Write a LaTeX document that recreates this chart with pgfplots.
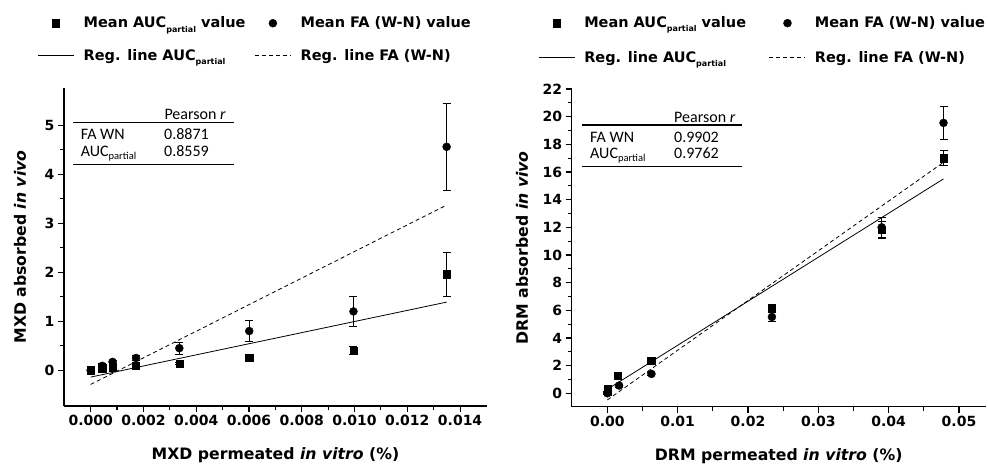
\documentclass[border=0pt]{standalone}
\usepackage{pgfplots}
\pgfplotsset{compat=1.18}
\usepackage{fontspec}
\setmainfont{DejaVu Sans}
\newfontfamily\tabfont{Carlito}
\newcommand\sub[1]{\raisebox{-0.28em}{\fontsize{8}{8}\selectfont #1}}
\newcommand\tsub[1]{\raisebox{-3pt}{\fontsize{10.5}{11}\selectfont #1}}

\pgfplotsset{
  regplot/.style={
    scale only axis,
    axis lines=left,
    axis line style={-, line width=1.4pt},
    tick align=outside,
    major tick length=6pt,
    minor tick length=4pt,
    tick style={line width=1.1pt, black},
    ticklabel style={font=\fontsize{14}{16}\selectfont\bfseries},
    label style={font=\fontsize{15.7}{18}\selectfont\bfseries},
    scaled ticks=false,
    clip=false,
    legend columns=2,
    legend style={draw=none, fill=none, anchor=north west, inner sep=0pt,
      nodes={inner sep=0pt, font=\fontsize{14.5}{17}\selectfont\bfseries},
      row sep=20pt,
      /tikz/every odd column/.append style={column sep=9.4pt},
      /tikz/every even column/.append style={column sep=9pt}},
    legend cell align=left,
    legend image code/.code={%
      \draw[#1] (0pt,0pt) -- (36pt,0pt);},
    error bars/y dir=both,
    error bars/y explicit,
    error bars/error bar style={line width=0.8pt, black},
    error bars/error mark options={rotate=90, mark size=4pt, line width=0.8pt},
    xlabel style={at={(axis description cs:0.5,0)}, anchor=center, yshift=-49pt},
  },
  sq/.style={only marks, mark=square*, mark size=3.6pt, black, mark options={fill=black}},
  ci/.style={only marks, mark=*, mark size=4pt, black, mark options={fill=black}},
  reg/.style={black, line width=0.8pt},
  regd/.style={black, line width=0.8pt, dash pattern=on 4pt off 3pt},
  % legend image for a single mark, centred in a 36pt wide cell
  markimg/.style={legend image code/.code={%
      \path[draw=none, fill=none] (0pt,0pt) -- (36pt,0pt);
      \draw[draw=none, #1] plot coordinates {(18pt,0pt)};}},
}

\begin{document}
\begin{tikzpicture}
\path[use as bounding box] (0pt,0pt) rectangle (988pt,466pt);

%% left panel: MXD
\begin{axis}[regplot,
  at={(64pt,60pt)}, anchor=south west,
  width=423pt, height=318pt,
  xmin=-0.00101, xmax=0.01502,
  ymin=-0.73, ymax=5.76,
  xtick={0,0.002,0.004,0.006,0.008,0.010,0.012,0.014},
  xticklabels={0.000,0.002,0.004,0.006,0.008,0.010,0.012,0.014},
  minor x tick num=1,
  ytick={0,1,2,3,4,5}, yticklabels={0,1,2,3,4,5},
  minor y tick num=1,
  xlabel={MXD permeated \textit{in vitro} (\%)},
  ylabel={MXD absorbed \textit{in vivo}},
  ylabel style={at={(axis description cs:-0.104,0.5)}, anchor=center},
  legend style={at={(axis description cs:-0.0631,1.224)}},
]
\addplot[sq, forget plot] table[x=x, y=y, y error=e] {
x y e
0 0 0.02
0.00044 0.04 0.03
0.00083 0.06 0.03
0.00172 0.09 0.03
0.00336 0.14 0.03
0.00601 0.25 0.05
0.00996 0.40 0.08
0.01349 1.96 0.45
};
\addplot[ci, forget plot] table[x=x, y=y, y error=e] {
x y e
0 0 0.02
0.00044 0.09 0.04
0.00083 0.17 0.04
0.00172 0.25 0.05
0.00336 0.45 0.12
0.00601 0.80 0.22
0.00996 1.20 0.31
0.01349 4.56 0.88
};
\addplot[reg, forget plot] coordinates {(0,-0.14) (0.01349,1.39)};
\addplot[regd, forget plot] coordinates {(0,-0.29) (0.01349,3.37)};

\addlegendimage{sq, markimg}
\addlegendentry{Mean AUC\sub{partial} value}
\addlegendimage{ci, markimg}
\addlegendentry{Mean FA (W-N) value}
\addlegendimage{reg}
\addlegendentry{Reg. line AUC\sub{partial}}
\addlegendimage{regd}
\addlegendentry{Reg. line FA (W-N)}
\end{axis}

%% right panel: DRM
\begin{axis}[regplot,
  at={(571.7pt,59.3pt)}, anchor=south west,
  width=414pt, height=317.7pt,
  xmin=-0.00507, xmax=0.0538,
  ymin=-0.97, ymax=22,
  xtick={0,0.01,0.02,0.03,0.04,0.05},
  xticklabels={0.00,0.01,0.02,0.03,0.04,0.05},
  minor x tick num=1,
  ytick={0,2,4,6,8,10,12,14,16,18,20,22},
  yticklabels={0,2,4,6,8,10,12,14,16,18,20,22},
  minor y tick num=1,
  xlabel={DRM permeated \textit{in vitro} (\%)},
  ylabel={DRM absorbed \textit{in vivo}},
  ylabel style={at={(axis description cs:-0.12,0.5)}, anchor=center},
  legend style={at={(axis description cs:-0.0807,1.2276)}, row sep=22pt,
    /tikz/every odd column/.append style={column sep=9pt},
    /tikz/every even column/.append style={column sep=23pt}},
]
\addplot[sq, forget plot] table[x=x, y=y, y error=e] {
x y e
0 0.10 0.05
0.00008 0.36 0.10
0.00152 1.30 0.10
0.00622 2.38 0.10
0.0234 6.20 0.20
0.0390 11.8 0.60
0.0478 17.0 0.53
};
\addplot[ci, forget plot] table[x=x, y=y, y error=e] {
x y e
0 0.00 0.05
0.00008 0.12 0.05
0.00167 0.56 0.10
0.00627 1.40 0.10
0.0234 5.52 0.30
0.0390 12.0 0.70
0.0478 19.55 1.17
};
\addplot[reg, forget plot] coordinates {(0,0.29) (0.0478,15.5)};
\addplot[regd, forget plot] coordinates {(0,-0.48) (0.0478,16.7)};

\addlegendimage{sq, markimg}
\addlegendentry{Mean AUC\sub{partial} value}
\addlegendimage{ci, markimg}
\addlegendentry{Mean FA (W-N) value}
\addlegendimage{reg}
\addlegendentry{Reg. line AUC\sub{partial}}
\addlegendimage{regd}
\addlegendentry{Reg. line FA (W-N)}
\end{axis}

%% Pearson r tables (nodes placed on their baselines)
\begin{scope}[every node/.style={inner sep=0pt, anchor=base west, font=\tabfont\fontsize{16}{18}\selectfont}]
\draw[line width=1.6pt] (73.3pt,343.3pt) -- (234pt,343.3pt);
\draw[line width=0.9pt] (73.3pt,301.7pt) -- (234pt,301.7pt);
\node at (164.3pt,346pt) {Pearson \textit{r}};
\node at (80.7pt,326pt) {FA WN};
\node at (164pt,326pt) {0.8871};
\node at (80.7pt,309.5pt) {AUC\tsub{partial}};
\node at (164pt,309.5pt) {0.8559};

\draw[line width=1.6pt] (582pt,341pt) -- (742pt,341pt);
\draw[line width=0.9pt] (582pt,299.4pt) -- (742pt,299.4pt);
\node at (674pt,343.7pt) {Pearson \textit{r}};
\node at (590pt,323.7pt) {FA WN};
\node at (674pt,323.7pt) {0.9902};
\node at (590pt,307.2pt) {AUC\tsub{partial}};
\node at (674pt,307.2pt) {0.9762};
\end{scope}
\end{tikzpicture}
\end{document}
